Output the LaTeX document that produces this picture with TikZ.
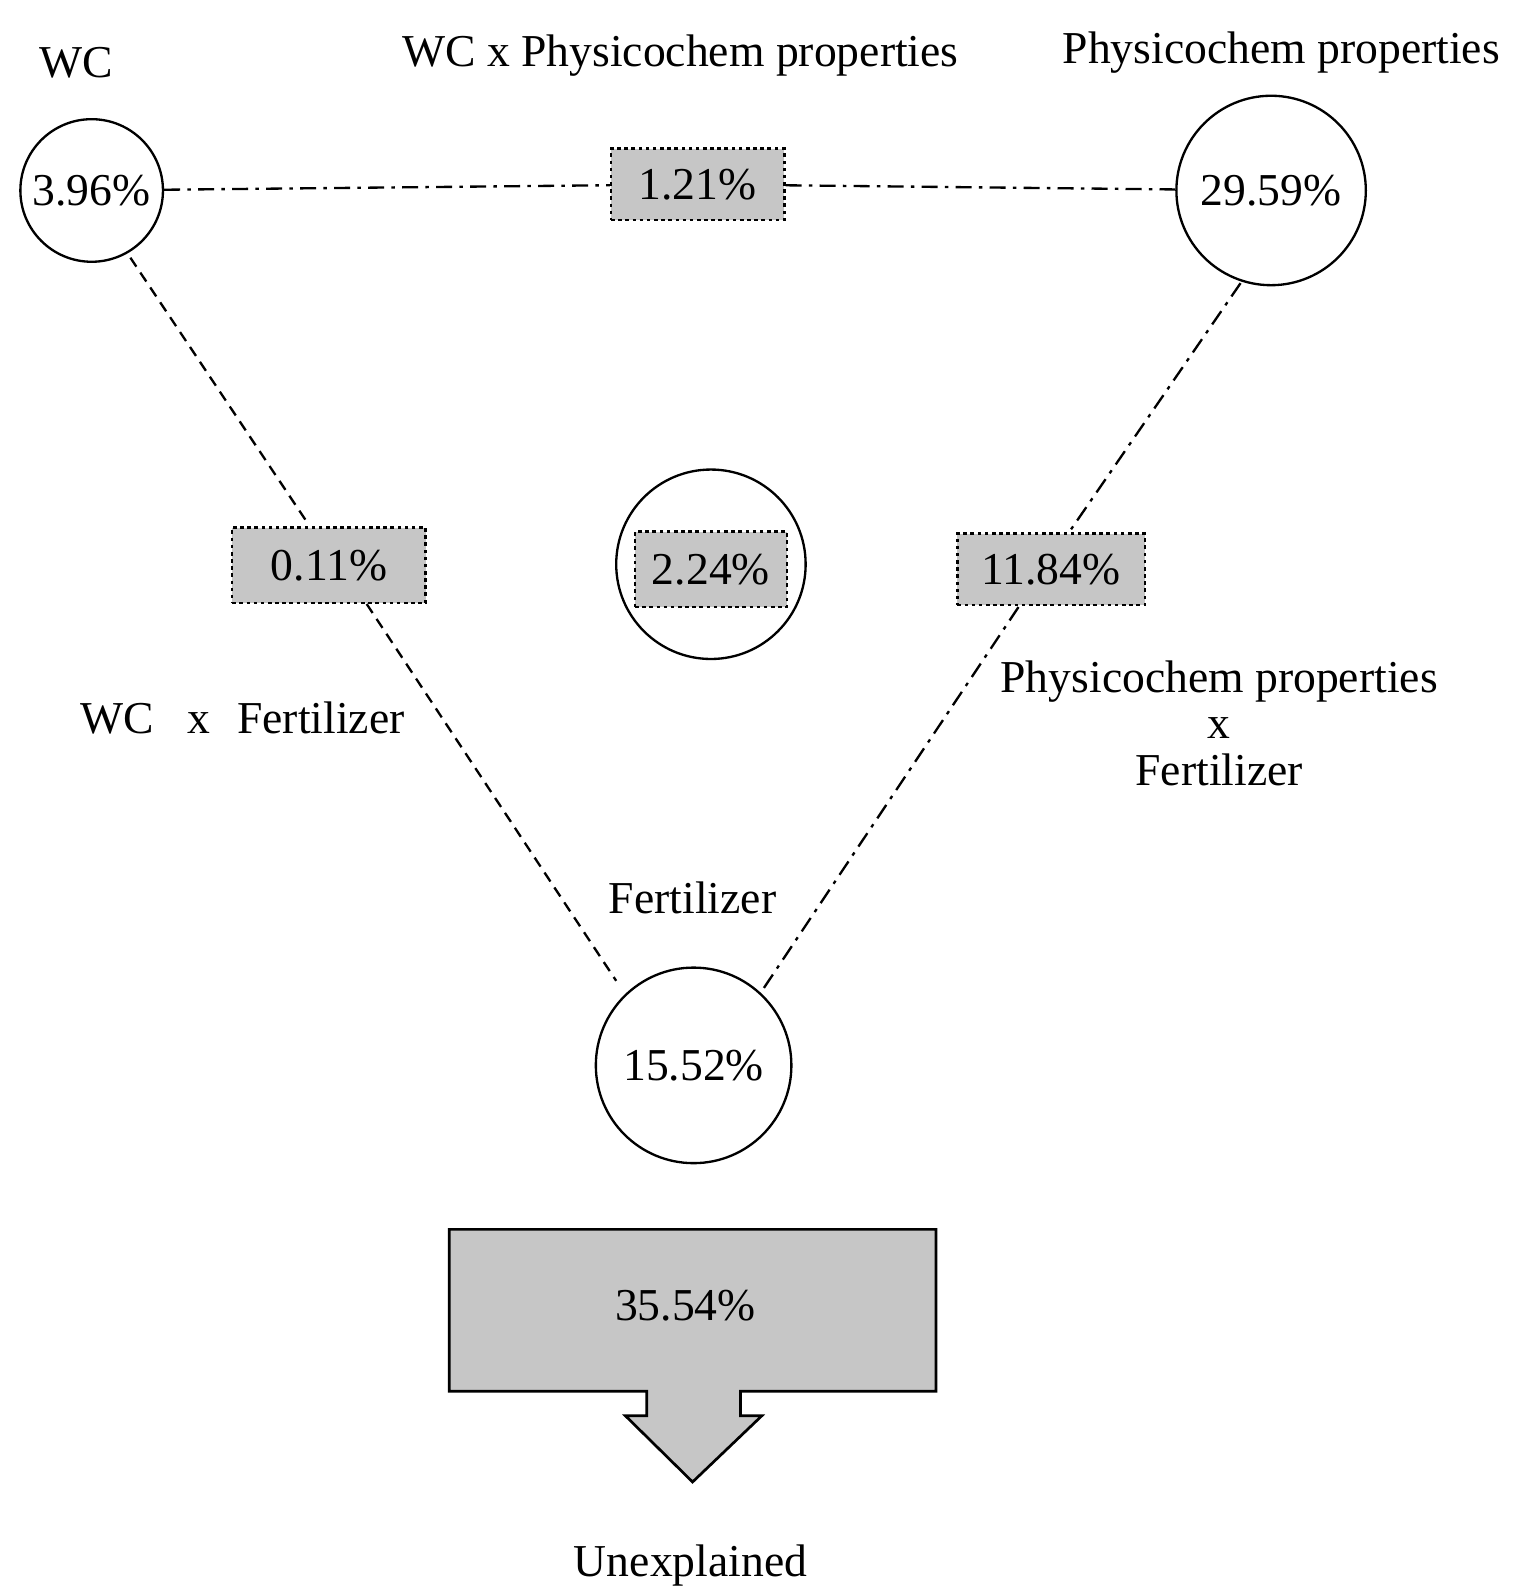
\documentclass[tikz,border=0pt]{standalone}
\usepackage{fontspec}
\setmainfont{Liberation Serif}
\begin{document}
\begin{tikzpicture}[x=0.02cm,y=-0.02cm,
  txt/.style={font=\fontsize{25.5}{30}\selectfont, inner sep=0pt},
  circ/.style={circle, draw, line width=1.3pt, inner sep=0pt, font=\fontsize{25.5}{30}\selectfont},
  gbox/.style={draw, fill=gray!45, dash pattern=on 2pt off 2pt, line width=1.4pt, inner sep=0pt, font=\fontsize{25.5}{30}\selectfont},
  dd/.style={line width=1.3pt, dash pattern=on 9pt off 4pt on 2pt off 4pt},
  ds/.style={line width=1.3pt, dash pattern=on 6pt off 4pt}]
\useasboundingbox (0,0) rectangle (1486,1566);
\node[circ, minimum size=140*0.02cm] (wc) at (90,187) {3.96\%};
\node[circ, minimum size=186*0.02cm] (pp) at (1248,187) {29.59\%};
\node[circ, minimum size=186*0.02cm] (mid) at (698,554) {};
\node[circ, minimum size=192*0.02cm] (fe) at (681,1046) {15.52\%};
\node[gbox, minimum width=170*0.02cm, minimum height=70*0.02cm] (b1) at (685,181) {1.21\%};
\node[gbox, minimum width=190*0.02cm, minimum height=74*0.02cm] (b2) at (323,555) {0.11\%};
\node[gbox, minimum width=149*0.02cm, minimum height=74*0.02cm] (b3) at (698,559) {2.24\%};
\node[gbox, minimum width=184*0.02cm, minimum height=70*0.02cm] (b4) at (1032,559) {11.84\%};
\node[txt] (lwc) at (75,62) {WC};
\node[txt] (lwp) at (668,55) {WC x Physicochem properties};
\node[txt] (lpp) at (1258,52) {Physicochem properties};
\node[txt] (lwf) at (238,705) {WC\,\,\, x\,\, Fertilizer};
\node[txt, align=center] (lpf) at (1197,710) {Physicochem properties\\[-4pt]x\\[-4pt]Fertilizer};
\node[txt] (lfe) at (680,882) {Fertilizer};
\node[txt] (lun) at (678,1537) {Unexplained};
\coordinate (w1) at (128,253); \coordinate (w2) at (303,515);
\coordinate (w3) at (360,593); \coordinate (w4) at (605,963);
\coordinate (p1) at (1218,278); \coordinate (p2) at (1050,522);
\coordinate (p3) at (1000,596); \coordinate (p4) at (750,970);
\draw[dd] (wc) -- (b1);
\draw[dd] (b1) -- (pp);
\draw[ds] (w1) -- (w2);
\draw[ds] (w3) -- (w4);
\draw[dd] (p1) -- (p2);
\draw[dd] (p3) -- (p4);
\draw[line width=1.5pt, fill=gray!45] (441,1207) -- (919,1207) -- (919,1366) -- (727,1366) -- (727,1390) -- (748,1390) -- (680,1455) -- (614,1390) -- (635,1390) -- (635,1366) -- (441,1366) -- cycle;
\node[txt] (un) at (673,1282) {35.54\%};
\end{tikzpicture}
\end{document}
